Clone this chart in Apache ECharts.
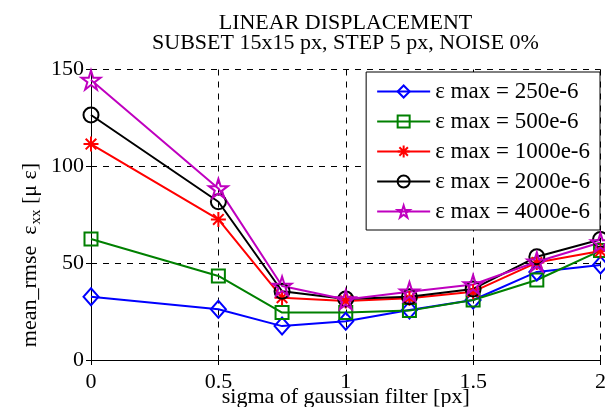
<!DOCTYPE html>
<html>
<head>
<meta charset="utf-8">
<script src="https://cdn.jsdelivr.net/npm/echarts@6/dist/echarts.min.js"></script>
<style>
  html, body { margin: 0; padding: 0; background: #fff; }
  #chart { width: 605px; height: 407px; }
</style>
</head>
<body>
<div id="chart"></div>
<script>
// Gaussian filter sigma [px]
const sigma = [0, 0.5, 0.75, 1, 1.25, 1.5, 1.75, 2];

// mean RMSE of eps_xx [micro-strain] for each maximum strain level
const rmse250  = [32.7, 26.2, 17.5, 20.0, 25.8, 31.0, 45.5, 49.0];
const rmse500  = [62.5, 43.4, 24.5, 24.5, 25.5, 31.0, 41.3, 56.5];
const rmse1000 = [111.5, 72.6, 32.2, 30.5, 31.9, 35.3, 50.3, 56.3];
const rmse2000 = [126.5, 81.7, 35.5, 31.5, 32.7, 36.7, 53.3, 62.2];
const rmse4000 = [144.6, 88.6, 38.2, 31.2, 35.3, 39.0, 50.7, 60.7];

const seriesNames = [
  'ε max = 250e-6',
  'ε max = 500e-6',
  'ε max = 1000e-6',
  'ε max = 2000e-6',
  'ε max = 4000e-6'
];

const xTicks = ['0', '0.5', '1', '1.5', '2'];
const yTicks = ['0', '50', '100', '150'];

const FONT = 'Liberation Serif';
const FS = 22;

// marker shapes
const STAR = 'path://M0,-1L0.2245,-0.309L0.951,-0.309L0.363,0.118L0.588,0.809L0,0.382L-0.588,0.809L-0.363,0.118L-0.951,-0.309L-0.2245,-0.309Z';
const ASTER = 'path://M0,-1L0,1M-1,0L1,0M-0.7071,-0.7071L0.7071,0.7071M-0.7071,0.7071L0.7071,-0.7071';

function makeSeries(name, values, color, symbol, size) {
  return {
    name: name,
    type: 'line',
    data: sigma.map((s, i) => [s, values[i]]),
    symbol: symbol,
    symbolSize: size,
    showAllSymbol: true,
    lineStyle: { color: color, width: 2 },
    itemStyle: { color: 'rgba(255,255,255,0)', borderColor: color, borderWidth: 2 },
    emphasis: { disabled: true },
    animation: false
  };
}

const chart = echarts.init(document.getElementById('chart'), null, { renderer: 'canvas' });

const gridLine = { show: true, lineStyle: { color: '#000', width: 1, type: [6, 6] } };

chart.setOption({
  backgroundColor: '#fff',
  animation: false,
  title: {
    text: 'LINEAR DISPLACEMENT\nSUBSET 15x15 px, STEP 5 px, NOISE 0%',
    left: 345.5,
    top: 13,
    padding: 0,
    textAlign: 'center',
    textStyle: { fontFamily: FONT, fontSize: FS, fontWeight: 'normal', color: '#000', lineHeight: 20 }
  },
  grid: { left: 91, right: 4.5, top: 69.5, bottom: 47, containLabel: false, outerBoundsMode: 'none' },
  legend: {
    orient: 'vertical',
    right: 5,
    top: 72,
    padding: [8, 10, 7, 10],
    itemGap: 7,
    itemWidth: 53,
    itemHeight: 15,
    backgroundColor: '#fff',
    borderColor: '#000',
    borderWidth: 1,
    borderRadius: 0,
    textStyle: { fontFamily: FONT, fontSize: 23, color: '#000' },
    data: seriesNames
  },
  xAxis: [
    {
      type: 'value', min: 0, max: 2, interval: 0.5,
      name: 'sigma of gaussian filter [px]',
      nameLocation: 'middle',
      nameGap: 26,
      nameMoveOverlap: false,
      nameTextStyle: { fontFamily: FONT, fontSize: FS, color: '#000' },
      axisLine: { show: true, lineStyle: { color: '#000', width: 1 } },
      axisTick: { show: true, inside: true, length: 5, lineStyle: { color: '#000' } },
      axisLabel: {
        margin: 11, fontFamily: FONT, fontSize: FS, color: '#000',
        formatter: (v) => xTicks[Math.round(v / 0.5)]
      },
      splitLine: gridLine
    },
    {
      type: 'value', min: 0, max: 2, interval: 0.5, position: 'top',
      axisLine: { show: true, lineStyle: { color: '#000', width: 1 } },
      axisTick: { show: true, inside: true, length: 5, lineStyle: { color: '#000' } },
      axisLabel: { show: false },
      splitLine: { show: false }
    }
  ],
  yAxis: [
    {
      type: 'value', min: 0, max: 150, interval: 50,
      axisLine: { show: true, lineStyle: { color: '#000', width: 1 } },
      axisTick: { show: true, inside: true, length: 5, lineStyle: { color: '#000' } },
      axisLabel: {
        margin: 7, fontFamily: FONT, fontSize: FS, color: '#000',
        formatter: (v) => yTicks[Math.round(v / 50)]
      },
      splitLine: gridLine
    },
    {
      type: 'value', min: 0, max: 150, interval: 50, position: 'right',
      axisLine: { show: true, lineStyle: { color: '#000', width: 1 } },
      axisTick: { show: true, inside: true, length: 5, lineStyle: { color: '#000' } },
      axisLabel: { show: false },
      splitLine: { show: false }
    }
  ],
  graphic: [
    {
      type: 'text',
      x: 30,
      y: 255,
      rotation: Math.PI / 2,
      style: {
        text: '{m|mean_rmse  ε}{s|xx}{m| [μ ε]}',
        align: 'center',
        verticalAlign: 'middle',
        fill: '#000',
        rich: {
          m: { fontFamily: FONT, fontSize: FS, fill: '#000' },
          s: { fontFamily: FONT, fontSize: 15, fill: '#000', padding: [12, 0, 0, 1] }
        }
      }
    }
  ],
  series: [
    makeSeries(seriesNames[0], rmse250, '#0000ff', 'diamond', [15, 17]),
    makeSeries(seriesNames[1], rmse500, '#008000', 'rect', 13),
    makeSeries(seriesNames[2], rmse1000, '#ff0000', ASTER, 15),
    makeSeries(seriesNames[3], rmse2000, '#000000', 'circle', 15),
    makeSeries(seriesNames[4], rmse4000, '#bf00bf', STAR, 19)
  ]
});
</script>
</body>
</html>
